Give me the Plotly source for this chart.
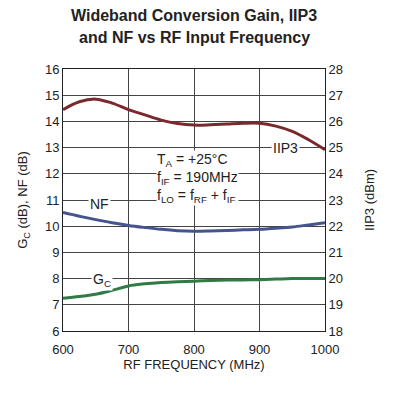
import plotly.graph_objects as go

freq = [600, 625, 650, 675, 700, 725, 750, 775, 800, 825, 850, 875, 900, 925, 950, 975, 1000]
iip3_dbm = [26.45, 26.75, 26.85, 26.7, 26.45, 26.25, 26.05, 25.92, 25.86, 25.87, 25.9, 25.93, 25.93, 25.82, 25.62, 25.3, 24.92]
nf_db = [10.52, 10.38, 10.25, 10.13, 10.03, 9.95, 9.88, 9.83, 9.81, 9.82, 9.84, 9.86, 9.88, 9.92, 9.97, 10.05, 10.13]
gc_db = [7.25, 7.32, 7.4, 7.55, 7.72, 7.8, 7.85, 7.88, 7.9, 7.93, 7.95, 7.95, 7.96, 7.98, 8.0, 8.0, 8.0]

x_ticks = [600, 700, 800, 900, 1000]
left_ticks = list(range(6, 17))
right_ticks = list(range(18, 29))

FONT = "Liberation Sans Narrow, Arial Narrow, Liberation Sans, Arial, sans-serif"
PLOT_H = 396 - 69 - 65

fig = go.Figure()
fig.add_trace(go.Scatter(x=freq, y=iip3_dbm, mode="lines", yaxis="y2",
                         line=dict(color="#7a2a2c", width=3, shape="spline"), name="IIP3"))
fig.add_trace(go.Scatter(x=freq, y=nf_db, mode="lines",
                         line=dict(color="#45538f", width=3, shape="spline"), name="NF"))
fig.add_trace(go.Scatter(x=freq, y=gc_db, mode="lines",
                         line=dict(color="#2f7a45", width=3, shape="spline"), name="GC"))

ann_font = dict(family=FONT, size=14, color="#222")
title_font = dict(family=FONT, size=16, color="#222")
annotations = [
    dict(x=0.5, y=1 + (69 - 15) / PLOT_H, xref="paper", yref="paper", yanchor="middle",
         text="<b>Wideband Conversion Gain, IIP3</b>", showarrow=False, font=title_font),
    dict(x=0.5, y=1 + (69 - 38) / PLOT_H, xref="paper", yref="paper", yanchor="middle",
         text="<b>and NF vs RF Input Frequency</b>", showarrow=False, font=title_font),
    dict(x=940, y=25.0, yref="y2", xref="x", text="IIP3", showarrow=False, font=ann_font, bgcolor="white"),
    dict(x=655, y=10.85, xref="x", yref="y", text="NF", showarrow=False, font=ann_font, bgcolor="white"),
    dict(x=660, y=7.95, xref="x", yref="y", text="G<sub>C</sub>", showarrow=False, font=ann_font, bgcolor="white"),
    dict(x=742, y=11.85, xref="x", yref="y", xanchor="left", yanchor="middle", align="left",
         text="T<sub>A</sub> = +25°C<br>f<sub>IF</sub> = 190MHz<br>f<sub>LO</sub> = f<sub>RF</sub> + f<sub>IF</sub>",
         showarrow=False, font=ann_font, bgcolor="white", borderpad=0),
]

fig.update_layout(
    width=397, height=396,
    margin=dict(l=63, r=72, t=69, b=65),
    paper_bgcolor="white", plot_bgcolor="white",
    showlegend=False,
    font=dict(family=FONT, size=13, color="#222"),
    xaxis=dict(range=[600, 1000], tickvals=x_ticks, showgrid=True, gridcolor="#444", gridwidth=1,
               showline=True, linecolor="#222", linewidth=1, mirror=True, zeroline=False,
               ticks="", tickfont=dict(size=13), ticklabelstandoff=6,
               title=dict(text="RF FREQUENCY (MHz)", font=dict(size=13), standoff=2)),
    yaxis=dict(range=[6, 16], tickvals=left_ticks, showgrid=True, gridcolor="#444", gridwidth=1,
               showline=True, linecolor="#222", linewidth=1, zeroline=False, ticks="",
               tickfont=dict(size=13),
               title=dict(text="G<sub>C</sub> (dB), NF (dB)", font=dict(size=13), standoff=14)),
    yaxis2=dict(range=[18, 28], tickvals=right_ticks, overlaying="y", side="right", showgrid=False,
                showline=True, linecolor="#222", linewidth=1, zeroline=False, ticks="",
                tickfont=dict(size=13),
                title=dict(text="IIP3 (dBm)", font=dict(size=13), standoff=22)),
    annotations=annotations,
)

fig.write_html("out.html")
